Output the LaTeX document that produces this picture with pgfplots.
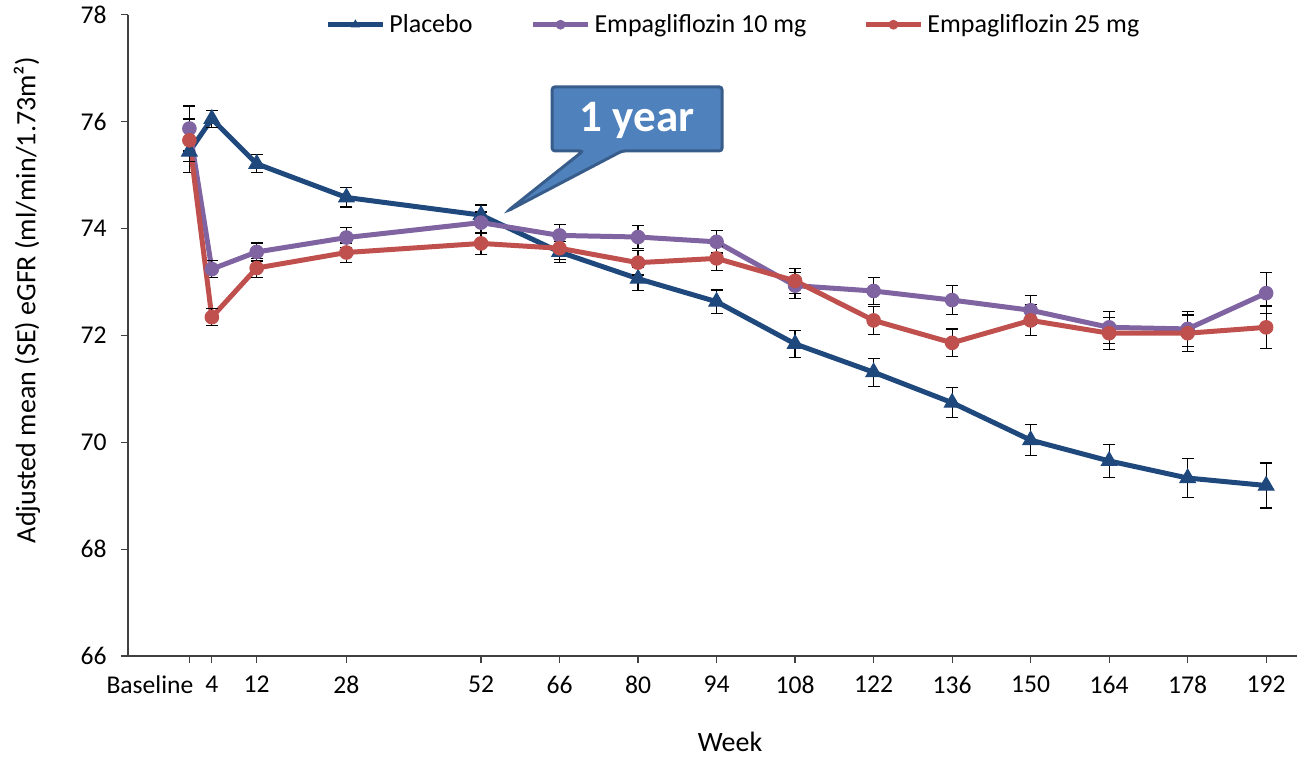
\documentclass[border=0pt]{standalone}
\usepackage{fontspec}
\setmainfont{Carlito}
\usepackage{pgfplots}
\pgfplotsset{compat=1.18}
\definecolor{placebo}{HTML}{1F497D}
\definecolor{empten}{HTML}{8064A2}
\definecolor{emptwf}{HTML}{C0504D}
\definecolor{callfill}{HTML}{4F81BD}
\definecolor{calldraw}{HTML}{385D8A}

\pgfplotstableread{
x y e
0 75.44 0.40
4 76.05 0.16
12 75.21 0.17
28 74.58 0.18
52 74.25 0.19
66 73.56 0.19
80 73.06 0.22
94 72.63 0.22
108 71.84 0.25
122 71.31 0.26
136 70.74 0.28
150 70.04 0.29
164 69.65 0.31
178 69.33 0.36
192 69.19 0.42
}\placebotab

\pgfplotstableread{
x y e
0 75.87 0.42
4 73.24 0.16
12 73.56 0.17
28 73.83 0.19
52 74.11 0.20
66 73.87 0.21
80 73.84 0.22
94 73.75 0.21
108 72.93 0.24
122 72.83 0.26
136 72.66 0.27
150 72.47 0.27
164 72.15 0.30
178 72.12 0.33
192 72.79 0.38
}\emptentab

\pgfplotstableread{
x y e
0 75.65 0.40
4 72.34 0.16
12 73.26 0.18
28 73.55 0.18
52 73.72 0.21
66 73.63 0.21
80 73.36 0.23
94 73.44 0.22
108 73.02 0.23
122 72.28 0.26
136 71.86 0.26
150 72.28 0.29
164 72.04 0.30
178 72.04 0.34
192 72.15 0.40
}\emptwftab

\begin{document}
\begin{tikzpicture}
\path[use as bounding box] (-64pt,-50.5pt) rectangle (584.5pt,328pt);
\begin{axis}[
  at={(0,0)}, anchor=south west,
  scale only axis, width=584.5pt, height=320.65pt,
  xmin=-10.95, xmax=197.5, ymin=66, ymax=78,
  axis x line*=bottom, axis y line*=left,
  axis line style={black!75, line width=0.6pt},
  xtick={0,4,12,28,52,66,80,94,108,122,136,150,164,178,192},
  xticklabels={\makebox[0pt][r]{Baseline\kern-2pt},4,12,28,52,66,80,94,108,122,136,150,164,178,192},
  ytick={66,68,...,78},
  tick align=outside,
  major tick length=3.5pt,
  tick style={black!75, line width=0.6pt},
  /pgf/number format/assume math mode=true,
  ticklabel style={font=\fontsize{12.8}{15}\selectfont},
  xticklabel style={anchor=north, yshift=-3pt},
  yticklabel style={anchor=east, xshift=-3.7pt},
  xlabel={Week},
  ylabel={Adjusted mean (SE) eGFR (ml/min/1.73m²)},
  xlabel style={at={([yshift=-43pt]axis description cs:0.515,0)}, anchor=center, font=\fontsize{14}{17}\selectfont},
  ylabel style={at={([xshift=-50.5pt]axis description cs:0,0.555)}, anchor=center, font=\fontsize{14}{17}\selectfont},
  legend columns=3,
  legend style={at={([xshift=98.5pt,yshift=-5pt]axis description cs:0,1)}, anchor=west, draw=none, fill=none, inner sep=0pt, column sep=2pt, font=\fontsize{13}{15}\selectfont, /tikz/column 2/.style={column sep=29pt}, /tikz/column 4/.style={column sep=28.5pt}, nodes={inner sep=0pt}},
  legend image code/.code={\draw[#1, mark repeat=2, mark phase=2, mark size=2.2pt] plot coordinates {(0pt,0pt) (13.75pt,0pt) (27.5pt,0pt)};},
]
\addplot[color=placebo, line width=2.5pt, mark=triangle*, mark size=4.5pt, mark options={solid, line width=0.5pt},
  error bars/.cd, y dir=both, y explicit, error bar style={black, line width=0.6pt},
  error mark options={black, rotate=90, mark size=3pt, line width=0.6pt}]
  table[x=x, y=y, y error=e]{\placebotab};
\addlegendentry{Placebo}
\addplot[color=empten, line width=2.5pt, mark=*, mark size=3.4pt, mark options={solid, line width=0.5pt},
  error bars/.cd, y dir=both, y explicit, error bar style={black, line width=0.6pt},
  error mark options={black, rotate=90, mark size=3pt, line width=0.6pt}]
  table[x=x, y=y, y error=e]{\emptentab};
\addlegendentry{Empagliflozin 10 mg}
\addplot[color=emptwf, line width=2.5pt, mark=*, mark size=3.4pt, mark options={solid, line width=0.5pt},
  error bars/.cd, y dir=both, y explicit, error bar style={black, line width=0.6pt},
  error mark options={black, rotate=90, mark size=3pt, line width=0.6pt}]
  table[x=x, y=y, y error=e]{\emptwftab};
\addlegendentry{Empagliflozin 25 mg}
\draw[fill=callfill, draw=calldraw, line width=1.5pt, rounded corners=1.5pt]
  (axis cs:64.67,76.65) -- (axis cs:94.99,76.65) -- (axis cs:94.99,75.45) -- (axis cs:77.15,75.45)
  -- (axis cs:56.8,74.33) -- (axis cs:70.2,75.45) -- (axis cs:64.67,75.45) -- cycle;
\node[text=white, font=\bfseries\fontsize{22.5}{26}\selectfont] at (axis cs:79.8,76.03) {1 year};
\end{axis}
\end{tikzpicture}
\end{document}
